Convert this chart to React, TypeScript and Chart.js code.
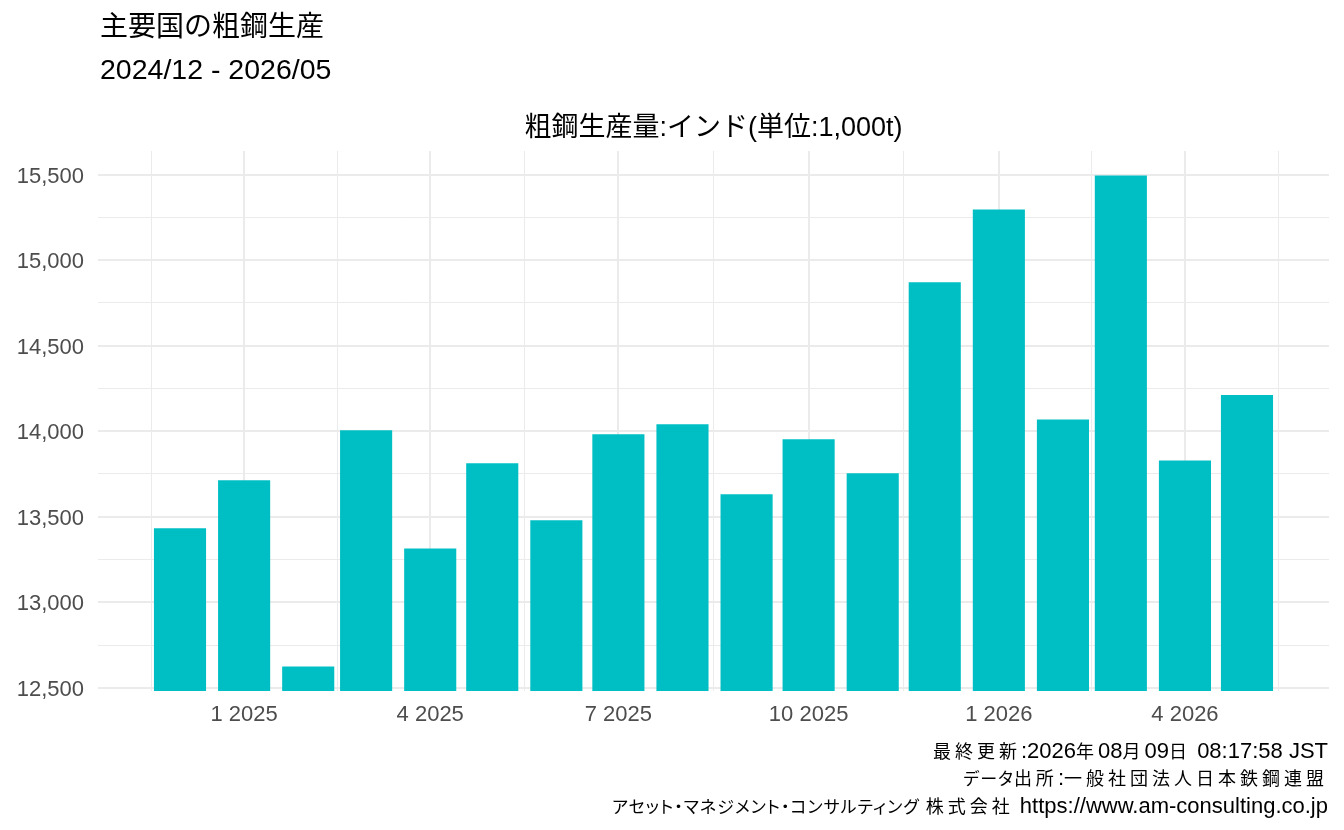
import { useEffect, useRef } from "react"
import { Chart, registerables } from "chart.js"

Chart.register(...registerables)

// monthly crude steel output, India (1,000t)
const months = [
  "2024-12", "2025-01", "2025-02", "2025-03", "2025-04", "2025-05",
  "2025-06", "2025-07", "2025-08", "2025-09", "2025-10", "2025-11",
  "2025-12", "2026-01", "2026-02", "2026-03", "2026-04", "2026-05",
]
const output = [
  13432, 13713, 12625, 14006, 13315, 13813,
  13479, 13982, 14041, 13631, 13953, 13754,
  14871, 15295, 14068, 15494, 13828, 14211,
]
const xTickMonths = ["2025-01", "2025-04", "2025-07", "2025-10", "2026-01", "2026-04"]
const yTickValues = [12500, 12750, 13000, 13250, 13500, 13750, 14000, 14250, 14500, 14750, 15000, 15250, 15500]
const yMajorStep = 500

const captionLines = [
  "最終更新:2026年08月09日 08:17:58 JST",
  "データ出所:一般社団法人日本鉄鋼連盟",
  "アセット・マネジメント・コンサルティング 株式会社 https://www.am-consulting.co.jp",
]

const FONT = '"Liberation Sans", "Noto Sans CJK JP", sans-serif'
const BAR = "#00BFC4"
const GRID = "#EBEBEB"

const toDay = (ym: string) => {
  const [y, m] = ym.split("-").map(Number)
  return Date.UTC(y, m - 1, 1) / 86400000
}
const tickLabel = (ym: string) => {
  const [y, m] = ym.split("-").map(Number)
  return `${m} ${y}`
}

// x limits like ggplot: bar width 0.9 * resolution, then 5% expansion
const xs = months.map(toDay)
const minGap = Math.min(...xs.slice(1).map((v, i) => v - xs[i]))
const lo = xs[0] - minGap * 0.45
const hi = xs[xs.length - 1] + minGap * 0.45
const xMin = lo - (hi - lo) * 0.05
const xMax = hi + (hi - lo) * 0.05

const vMin = Math.min(...output)
const vMax = Math.max(...output)
const yMin = vMin - (vMax - vMin) * 0.05
const yMax = vMax + (vMax - vMin) * 0.05

// major ticks at quarter starts, minor ticks halfway (regular_minor_breaks style)
const majors = xTickMonths.map(toDay)
const step = majors[1] - majors[0]
const ext = [majors[0] - step, ...majors, majors[majors.length - 1] + step]
const minors = ext.slice(1).map((v, i) => (v + ext[i]) / 2).filter((v) => v >= xMin && v <= xMax)
const xTicks = [
  ...majors.map((v, i) => ({ value: v, major: true, text: tickLabel(xTickMonths[i]) })),
  ...minors.map((v) => ({ value: v, major: false, text: "" })),
].sort((a, b) => a.value - b.value)

// caption: small CJK glyphs on a wide pitch, kana proportional, latin at full size
function Caption({ line }: { line: string }) {
  const runs = line.match(/[\u4e00-\u9fff]+|[\u3040-\u30ff]+|[^\u3040-\u30ff\u4e00-\u9fff]+/g) || []
  return (
    <div>
      {runs.map((r, i) => {
        if (/[\u4e00-\u9fff]/.test(r)) return <span key={i} style={{ fontSize: 18, letterSpacing: "4px" }}>{r}</span>
        if (/[\u3040-\u30ff]/.test(r)) return <span key={i} style={{ fontSize: 17, letterSpacing: "1px" }}>{r}</span>
        return <span key={i}>{r}</span>
      })}
    </div>
  )
}

export default function App() {
  const ref = useRef<HTMLCanvasElement>(null)

  useEffect(() => {
    if (!ref.current) return
    const chart = new Chart(ref.current, {
      type: "bar",
      data: {
        datasets: [
          {
            data: xs.map((x, i) => ({ x, y: output[i] })),
            backgroundColor: BAR,
            borderWidth: 0,
            barPercentage: 0.9,
            categoryPercentage: 1,
          },
        ],
      },
      options: {
        animation: false,
        responsive: false,
        layout: { padding: { top: 151, left: 0, right: 15, bottom: 99 } },
        plugins: { legend: { display: false }, tooltip: { enabled: false } },
        scales: {
          x: {
            type: "linear",
            min: xMin,
            max: xMax,
            bounds: "data",
            offset: false,
            border: { display: false },
            grid: {
              offset: false,
              drawTicks: false,
              color: GRID,
              lineWidth: (ctx: any) => (ctx.tick && ctx.tick.major ? 2 : 1),
            },
            afterBuildTicks: (scale: any) => {
              scale.ticks = xTicks.map((t) => ({ ...t }))
            },
            afterFit: (scale: any) => {
              scale.height = 40
            },
            ticks: {
              autoSkip: false,
              maxRotation: 0,
              padding: 11,
              color: "#4D4D4D",
              font: { family: FONT, size: 22 },
              callback: (_v: any, i: number, ticks: any[]) => ticks[i].text,
            },
          },
          y: {
            type: "linear",
            min: yMin,
            max: yMax,
            bounds: "data",
            beginAtZero: false,
            border: { display: false },
            grid: {
              drawTicks: false,
              color: GRID,
              lineWidth: (ctx: any) => (ctx.tick && ctx.tick.value % yMajorStep === 0 ? 2 : 1),
            },
            afterBuildTicks: (scale: any) => {
              scale.ticks = yTickValues.map((value) => ({ value }))
            },
            afterFit: (scale: any) => {
              scale.width = 98
            },
            ticks: {
              padding: 14,
              labelOffset: 2,
              color: "#4D4D4D",
              font: { family: FONT, size: 22 },
              callback: (v: any) => (Number(v) % yMajorStep === 0 ? Number(v).toLocaleString("en-US") : ""),
            },
          },
        },
      },
    })
    return () => chart.destroy()
  }, [])

  const text = { position: "absolute" as const, fontFamily: FONT, color: "#000", whiteSpace: "nowrap" as const }

  return (
    <div style={{ position: "absolute", left: 0, top: 0, width: 1344, height: 830, background: "#fff", overflow: "hidden" }}>
      <canvas ref={ref} width={1344} height={830} style={{ position: "absolute", left: 0, top: 0, width: 1344, height: 830 }} />
      <div style={{ ...text, left: 100, top: 13, fontSize: 28, lineHeight: "28px" }}>主要国の粗鋼生産</div>
      <div style={{ ...text, left: 100, top: 55, fontSize: 28.5, lineHeight: "29px" }}>2024/12 - 2026/05</div>
      <div style={{ ...text, left: 98, width: 1231, top: 114, fontSize: 27, lineHeight: "27px", textAlign: "center" }}>
        粗鋼生産量:インド(単位:1,000t)
      </div>
      <div
        style={{
          ...text,
          right: 16,
          top: 738,
          fontSize: 22,
          lineHeight: "26px",
          textAlign: "right",
          fontFeatureSettings: '"palt"',
        }}
      >
        {captionLines.map((l, i) => (
          <Caption key={i} line={l} />
        ))}
      </div>
    </div>
  )
}
